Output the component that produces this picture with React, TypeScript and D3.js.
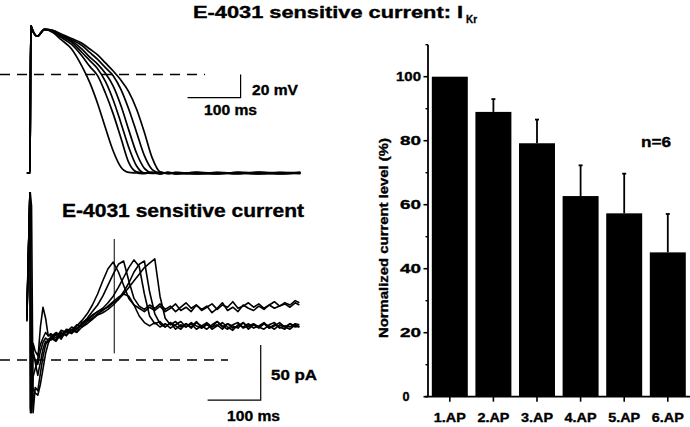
import React from "react";
import * as d3 from "d3";

// ---------- Action potential traces (ms, mV) ----------
const apTimes = [-6, 0, 1.5, 6, 14, 28, 45, 60, 80, 100, 115, 130, 145, 160, 175, 190, 205, 220, 235, 250, 265, 280, 320, 360, 400, 440, 480, 520];
const apTrace1 = [-85, -85, 42, 37, 33, 39, 36, 30, 22, 7, -7, -25, -46, -66, -80, -84.5, -85, -85.6, -84.4, -85.5, -84.6, -85.7, -84.4, -85.6, -84.5, -85.4, -84.6, -85.2];
const apTrace2 = [-85, -85, 42, 37, 33, 39, 37, 32, 26, 16, 7, -1, -16, -34, -55, -76, -84, -85, -84.4, -85.7, -84.5, -85.3, -85.8, -84.4, -85.3, -84.3, -85.6, -85];
const apTrace3 = [-85, -85, 42, 37, 33, 39, 37, 33, 28, 19, 12, 5, -6, -22, -42, -63, -79, -85, -85.4, -84.3, -85.6, -84.6, -85.3, -85.8, -84.5, -85, -85.7, -84.4];
const apTrace4 = [-85, -85, 42, 37, 33, 39, 37, 34, 29, 22, 15, 9, 1, -10, -27, -48, -68, -81, -85, -85.6, -84.4, -85.3, -84.6, -85, -85.8, -84.4, -85, -85.5];
const apTrace5 = [-85, -85, 42, 37, 33, 39, 38, 34, 30, 25, 19, 13, 6, -1, -13, -30, -50, -70, -82, -85, -85.4, -84.4, -85.6, -84.7, -85.1, -85.6, -84.4, -85];
const apTrace6 = [-85, -85, 42, 37, 33, 39, 38, 35, 31, 27, 22, 17, 10, 3, -5, -15, -30, -50, -72, -84, -85.2, -85.6, -84.4, -85.3, -84.7, -85.8, -85, -84.4];

// ---------- E-4031 sensitive current traces (ms, pA) ----------
const curTimes = [-6, 0, 1, 3, 6, 10, 15, 20, 25, 30, 35,
  40, 50, 60, 70, 80, 90, 100, 110, 120, 130,
  140, 150, 160, 170, 180, 190, 200, 210, 220, 230,
  240, 250, 260, 270, 280, 290, 300, 310, 320, 330,
  340, 350, 360, 370, 380, 390, 400, 410, 420, 430,
  440, 450, 460, 470, 480, 490, 500, 510, 518];
const curTrace1 = [38, 155, -48, -30, -26, -30, -32, -22, -8, 6, 15,
  20, 24, 19, 27, 25, 31, 36, 42, 50, 60,
  72, 83, 89, 80, 68, 56, 50, 47, 44, 48,
  45, 49, 44, 47, 51, 45, 48, 44, 50, 46,
  49, 43, 47, 52, 45, 48, 44, 50, 47, 45,
  49, 46, 50, 47, 49, 51, 48, 52, 50];
const curTrace2 = [35, 155, 100, -48, -15, -8, 0, 30, 48, 38, 22,
  22, 18, 25, 22, 28, 26, 33, 38, 44, 50,
  58, 68, 78, 87, 90, 72, 56, 49, 46, 50,
  47, 51, 46, 49, 44, 48, 52, 47, 50, 45,
  48, 51, 46, 50, 48, 53, 47, 49, 52, 48,
  51, 47, 50, 53, 49, 52, 50, 54, 52];
const curTrace3 = [42, 155, -46, -10, 5, 0, -4, 8, 16, 20, 18,
  21, 25, 22, 28, 27, 32, 30, 35, 38, 42,
  45, 49, 53, 57, 60, 58, 50, 40, 34, 31,
  34, 30, 33, 29, 32, 35, 30, 33, 28, 31,
  34, 30, 32, 28, 33, 31, 29, 34, 30, 32,
  29, 33, 31, 28, 32, 30, 33, 31, 30];
const curTrace4 = [40, 155, 150, 140, -48, -25, -28, -12, 3, 14, 19,
  18, 23, 21, 26, 24, 29, 32, 36, 40, 44,
  47, 52, 58, 66, 75, 84, 91, 85, 60, 40,
  33, 35, 30, 34, 31, 28, 33, 30, 35, 29,
  32, 30, 35, 31, 28, 32, 34, 29, 31, 33,
  30, 28, 32, 34, 29, 31, 30, 33, 32];
const curTrace5 = [36, 155, -44, 0, 8, -2, -14, -2, 10, 17, 16,
  20, 17, 24, 23, 27, 25, 30, 33, 37, 41,
  43, 46, 50, 55, 62, 70, 80, 87, 90, 62,
  42, 33, 30, 34, 28, 32, 30, 34, 31, 29,
  33, 28, 31, 34, 30, 27, 32, 30, 33, 29,
  31, 34, 29, 32, 30, 28, 33, 30, 31];
const curTrace6 = [44, 155, 120, -45, 15, 8, 4, 14, 20, 25, 22,
  24, 20, 27, 25, 30, 28, 34, 37, 41, 44,
  46, 48, 52, 55, 60, 66, 72, 78, 84, 88,
  92, 58, 38, 32, 35, 30, 33, 29, 34, 31,
  28, 32, 35, 30, 33, 29, 31, 34, 28, 32,
  30, 33, 29, 31, 34, 30, 28, 32, 30];

// ---------- Bar chart ----------
const barCategories = ["1.AP", "2.AP", "3.AP", "4.AP", "5.AP", "6.AP"];
const barMeans = [100, 89, 79.2, 62.7, 57.3, 45.1];
const barErrors = [0, 4, 7.4, 9.6, 12.4, 12.0];
const yMajorTicks = [0, 20, 40, 60, 80, 100];
const yMinorTicks = [10, 30, 50, 70, 90, 110];

const FONT = "'Liberation Sans', Arial, Helvetica, sans-serif";

export default function App() {
  const xT = d3.scaleLinear().domain([0, 100]).range([30, 82]);
  const yV = d3.scaleLinear().domain([0, -85]).range([74.5, 173]);
  const yI = d3.scaleLinear().domain([0, 50]).range([360, 305]);

  const apLine = d3
    .line<[number, number]>()
    .x((d) => xT(d[0]))
    .y((d) => yV(d[1]))
    .curve(d3.curveMonotoneX);
  const curLine = d3
    .line<[number, number]>()
    .x((d) => xT(d[0]))
    .y((d) => yI(d[1]));

  const apTraces = [apTrace1, apTrace2, apTrace3, apTrace4, apTrace5, apTrace6];
  const curTraces = [curTrace1, curTrace2, curTrace3, curTrace4, curTrace5, curTrace6];

  const xB = d3
    .scaleBand<string>()
    .domain(barCategories)
    .range([428, 689.6])
    .paddingInner(0.175)
    .paddingOuter(0.0875);
  const yB = d3.scaleLinear().domain([0, 110]).range([396.7, 44.7]);
  const axisX = 428;

  const txt = {
    fontFamily: FONT,
    fontWeight: 700 as const,
    fill: "#000",
    stroke: "#000",
    strokeWidth: 0.35,
  };

  return (
    <svg
      width={690}
      height={427}
      style={{ position: "absolute", left: 0, top: 0, background: "#fff" }}
    >
      <rect x={0} y={0} width={690} height={427} fill="#fff" />
      <defs>
        <clipPath id="curClip">
          <rect x={0} y={192} width={340} height={235} />
        </clipPath>
      </defs>

      {/* Title */}
      <text x={193} y={18} fontSize={16} {...txt} textLength={270} lengthAdjust="spacingAndGlyphs">
        E-4031 sensitive current: I
      </text>
      <text x={466} y={23} fontSize={11} {...txt} textLength={11} lengthAdjust="spacingAndGlyphs">
        Kr
      </text>

      {/* ---- AP panel ---- */}
      <line x1={0} x2={205} y1={yV(0)} y2={yV(0)} stroke="#000" strokeWidth={1.6} strokeDasharray="10 7" />
      {apTraces.map((tr, i) => (
        <path
          key={"ap" + i}
          d={apLine(apTimes.map((t, j) => [t, tr[j]] as [number, number])) || ""}
          fill="none"
          stroke="#000"
          strokeWidth={1.7}
        />
      ))}
      {/* AP scale bar */}
      <path
        d={`M${xT(303)},${yV(-20)}H${xT(405)}V${yV(0)}`}
        fill="none"
        stroke="#000"
        strokeWidth={1.2}
      />
      <text x={252} y={95} fontSize={14.5} {...txt} textLength={46} lengthAdjust="spacingAndGlyphs">
        20 mV
      </text>
      <text x={204} y={115} fontSize={14.5} {...txt} textLength={53} lengthAdjust="spacingAndGlyphs">
        100 ms
      </text>

      {/* ---- Current panel ---- */}
      <text x={62} y={217} fontSize={18} {...txt} textLength={242} lengthAdjust="spacingAndGlyphs">
        E-4031 sensitive current
      </text>
      <line x1={0} x2={228} y1={yI(0)} y2={yI(0)} stroke="#000" strokeWidth={1.6} strokeDasharray="10 7" />
      <line x1={xT(162)} x2={xT(162)} y1={yI(110)} y2={yI(6)} stroke="#000" strokeWidth={1} />
      <g clipPath="url(#curClip)">
        {curTraces.map((tr, i) => (
          <path
            key={"cur" + i}
            d={curLine(curTimes.map((t, j) => [t, tr[j]] as [number, number])) || ""}
            fill="none"
            stroke="#000"
            strokeWidth={1.6}
            strokeLinejoin="round"
          />
        ))}
      </g>
      {/* current scale bar */}
      <path
        d={`M${xT(341.5)},${yI(-36.4)}H${xT(443.7)}V${yI(13.6)}`}
        fill="none"
        stroke="#000"
        strokeWidth={1.2}
      />
      <text x={271} y={380} fontSize={14.5} {...txt} textLength={46} lengthAdjust="spacingAndGlyphs">
        50 pA
      </text>
      <text x={227} y={421} fontSize={14.5} {...txt} textLength={53} lengthAdjust="spacingAndGlyphs">
        100 ms
      </text>

      {/* ---- Bar chart ---- */}
      {barCategories.map((c, i) => {
        const x = xB(c) as number;
        const w = xB.bandwidth();
        const cx = x + w / 2;
        const v = barMeans[i];
        const e = barErrors[i];
        return (
          <g key={c}>
            <rect x={x} y={yB(v)} width={w} height={yB(0) - yB(v)} fill="#000" />
            {e > 0 && (
              <>
                <line x1={cx} x2={cx} y1={yB(v)} y2={yB(v + e)} stroke="#000" strokeWidth={1.8} />
                <line x1={cx - 2} x2={cx + 2} y1={yB(v + e)} y2={yB(v + e)} stroke="#000" strokeWidth={1.8} />
              </>
            )}
          </g>
        );
      })}
      {/* y axis */}
      <line x1={axisX} x2={axisX} y1={yB(110)} y2={yB(0)} stroke="#000" strokeWidth={1.8} />
      {yMajorTicks.map((v) => (
        <g key={"maj" + v}>
          <line x1={axisX - 4.5} x2={axisX} y1={yB(v)} y2={yB(v)} stroke="#000" strokeWidth={1.6} />
          <text
            x={v === 0 ? 409.5 : 421}
            y={yB(v) + 4.5}
            fontSize={12.5}
            textAnchor="end"
            {...txt}
            textLength={v >= 100 ? 25 : v === 0 ? 7 : 21}
            lengthAdjust="spacingAndGlyphs"
          >
            {v}
          </text>
        </g>
      ))}
      {yMinorTicks.map((v) => (
        <line key={"min" + v} x1={axisX - 2.5} x2={axisX} y1={yB(v)} y2={yB(v)} stroke="#000" strokeWidth={1.4} />
      ))}
      {/* x axis */}
      <line x1={axisX - 3} x2={690} y1={yB(0)} y2={yB(0)} stroke="#000" strokeWidth={1.8} />
      {barCategories.map((c) => {
        const cx = (xB(c) as number) + xB.bandwidth() / 2;
        return (
          <g key={"xt" + c}>
            <line x1={cx} x2={cx} y1={yB(0)} y2={yB(0) + 5} stroke="#000" strokeWidth={1.6} />
            <text x={cx} y={422} fontSize={12} textAnchor="middle" {...txt} textLength={32} lengthAdjust="spacingAndGlyphs">
              {c}
            </text>
          </g>
        );
      })}
      <text
        transform={`translate(388,238) rotate(-90)`}
        fontSize={13}
        textAnchor="middle"
        {...txt}
        textLength={200}
        lengthAdjust="spacingAndGlyphs"
      >
        Normalized current level (%)
      </text>
      <text x={641} y={147} fontSize={14.5} {...txt} textLength={30} lengthAdjust="spacingAndGlyphs">
        n=6
      </text>
    </svg>
  );
}
